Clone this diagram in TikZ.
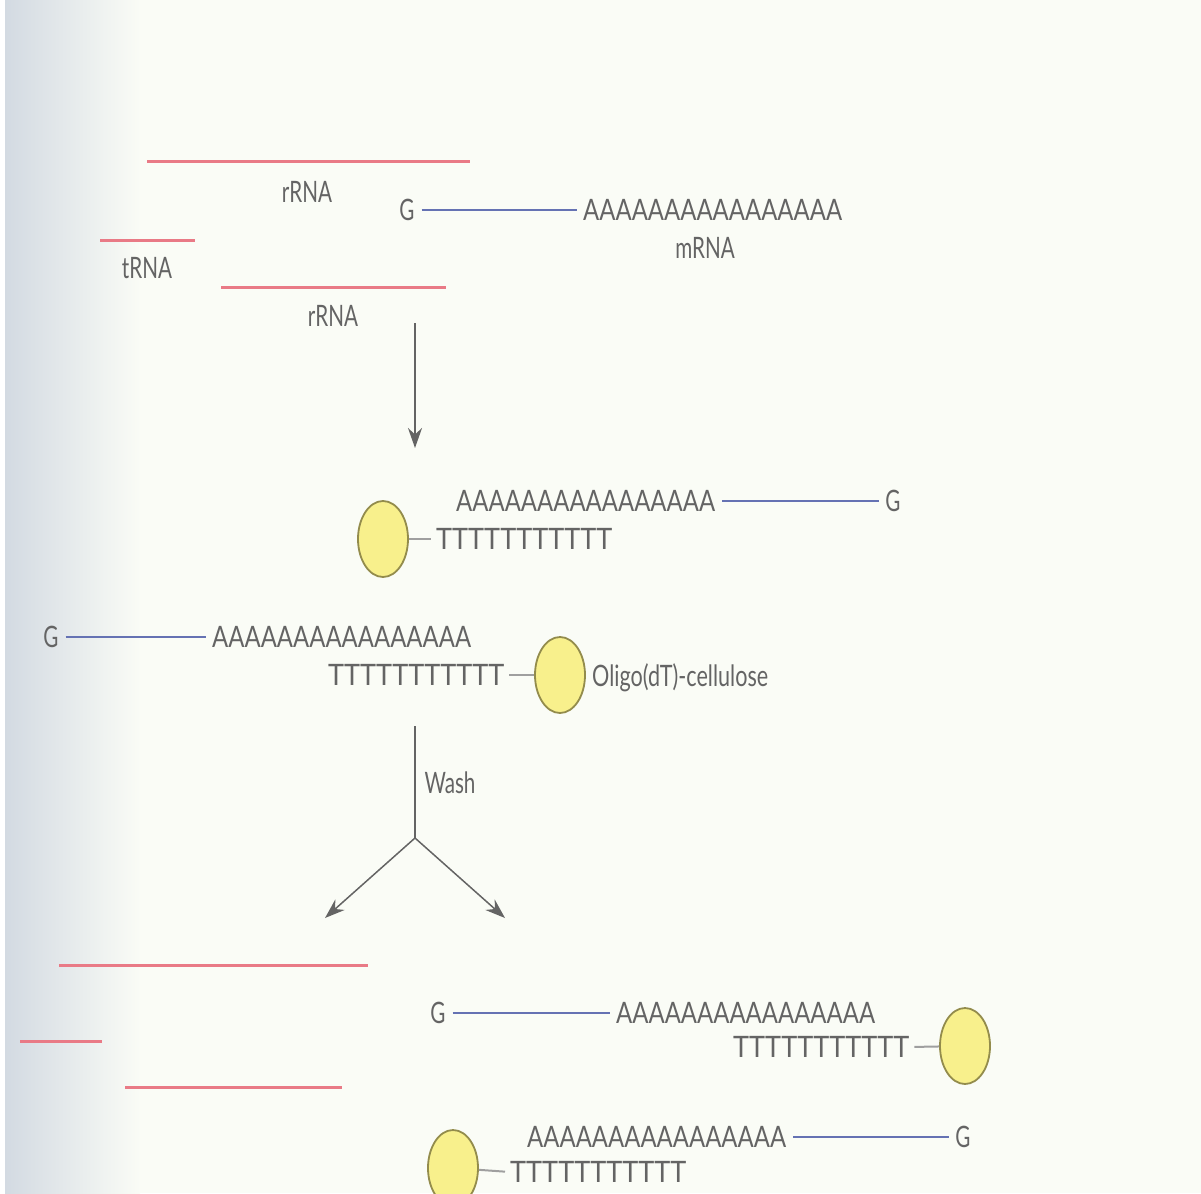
\documentclass[tikz,border=0pt]{standalone}
\usepackage{fontspec}
\usepackage{graphicx}
\setmainfont[FakeStretch=0.7]{Lato}
\usetikzlibrary{arrows.meta,shapes.geometric}
\definecolor{bg}{HTML}{FAFCF6}
\definecolor{edgec}{HTML}{D3DAE2}
\definecolor{rna}{HTML}{E97A86}
\definecolor{mrna}{HTML}{6572B3}
\definecolor{ink}{HTML}{646464}
\definecolor{beadfill}{HTML}{F8F08C}
\definecolor{beadline}{HTML}{938C4C}
\newcommand{\fitw}[2]{\resizebox{#1}{\height}{#2}}
\tikzset{
  lbl/.style={text=ink, font=\fontsize{29.5}{32}\selectfont, inner sep=0pt},
  seqbox/.style={lbl, anchor=west},
  rrna/.style={draw=rna, line width=3pt},
  mline/.style={draw=mrna, line width=2.8pt, shorten <=7pt, shorten >=6pt},
  bead/.style={ellipse, draw=beadline, fill=beadfill, line width=1.8pt,
    minimum width=50pt, minimum height=76pt, inner sep=0pt},
  link/.style={draw=gray!75, line width=2pt, shorten >=5pt},
  flow/.style={draw=ink, line width=1.5pt},
  tip/.style={-{Stealth[length=20pt,width=14pt]}}
}
\newcommand{\As}{\fitw{259pt}{AAAAAAAAAAAAAAAA}}
\newcommand{\Ts}{\fitw{176pt}{TTTTTTTTTTT}}
\begin{document}
\begin{tikzpicture}[x=1pt,y=-1pt]
\useasboundingbox (0,0) rectangle (1201,1193);
\clip (0,0) rectangle (1201,1193);
\fill[bg] (0,0) rectangle (1201,1193);
\shade[left color=edgec, right color=bg] (5,0) rectangle (140,1193);
\fill[white] (0,0) rectangle (5,1193);

% free RNAs at top
\draw[rrna] (147,162) -- (470,162);
\node[lbl] (r1) at (307,192) {rRNA};
\draw[rrna] (100,240) -- (195,240);
\node[lbl] (t0) at (147,268) {tRNA};
\draw[rrna] (221,287) -- (446,287);
\node[lbl] (r2) at (333,316) {rRNA};

% mRNA
\node[lbl] (g0) at (407,210) {G};
\node[seqbox] (a0) at (583,210) {\As};
\draw[mline] (g0.east) -- (a0.west);
\node[lbl] (m0) at (705,248) {mRNA};

% arrow 1
\coordinate (s1) at (415,323);
\coordinate (e1) at (415,448);
\draw[flow,tip] (s1) -- (e1);

% row 1
\node[bead] (b1) at (383,539) {};
\node[seqbox] (t1) at (436,539) {\Ts};
\node[seqbox] (a1) at (456,501) {\As};
\node[lbl] (g1) at (893,501) {G};
\draw[mline] (a1.east) -- (g1.west);
\draw[link] (b1) -- (t1.west);

% row 2
\node[lbl] (g2) at (51,637) {G};
\node[seqbox] (a2) at (212,637) {\As};
\draw[mline] (g2.east) -- (a2.west);
\node[seqbox] (t2) at (328,675) {\Ts};
\node[bead] (b2) at (560,675) {};
\draw[link] (b2) -- (t2.east);
\node[seqbox] (ol) at (592,678) {\fitw{176pt}{Oligo(dT)-cellulose}};

% wash
\coordinate (w0) at (415,726);
\coordinate (w1) at (415,838);
\coordinate (wl) at (325,918);
\coordinate (wr) at (505,918);
\draw[flow] (w0) -- (w1);
\draw[flow,tip] (w1) -- (wl);
\draw[flow,tip] (w1) -- (wr);
\node[lbl] (wash) at (450,783) {Wash};

% eluted-away RNAs
\draw[rrna] (59,965) -- (368,965);
\draw[rrna] (20,1041) -- (102,1041);
\draw[rrna] (125,1087) -- (342,1087);

% row 3
\node[lbl] (g3) at (438,1013) {G};
\node[seqbox] (a3) at (616,1013) {\As};
\draw[mline] (g3.east) -- (a3.west);
\node[seqbox] (t3) at (733,1047) {\Ts};
\node[bead] (b3) at (965,1046) {};
\draw[link] (b3) -- (t3.east);

% row 4
\node[bead] (b4) at (453,1168) {};
\node[seqbox] (t4) at (510,1172) {\Ts};
\node[seqbox] (a4) at (527,1137) {\As};
\node[lbl] (g4) at (963,1137) {G};
\draw[mline] (a4.east) -- (g4.west);
\draw[link] (b4) -- (t4.west);
\end{tikzpicture}
\end{document}
